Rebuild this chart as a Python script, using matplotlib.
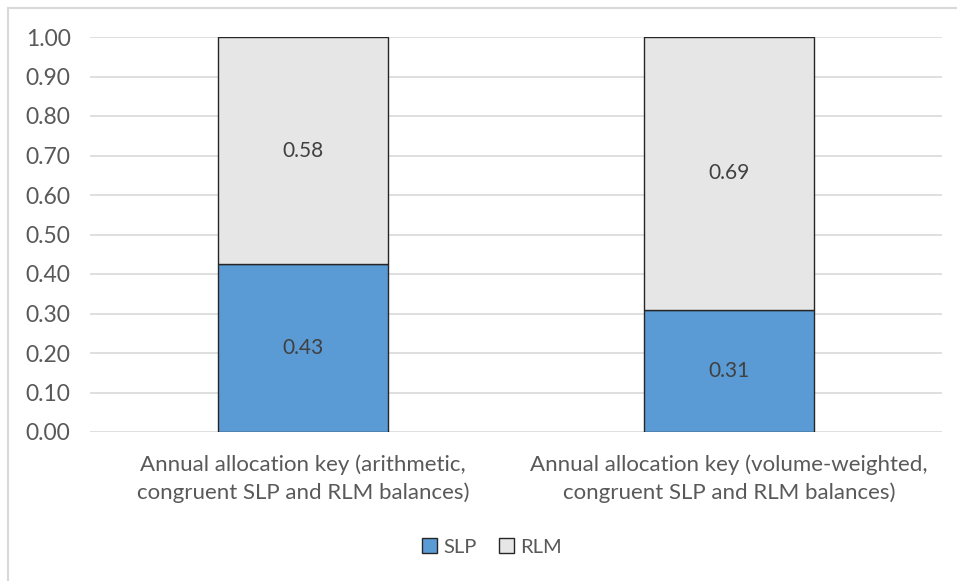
import matplotlib.pyplot as plt
from matplotlib.patches import Rectangle, Patch

categories = ["Annual allocation key (arithmetic,\ncongruent SLP and RLM balances)",
              "Annual allocation key (volume-weighted,\ncongruent SLP and RLM balances)"]
slp = [0.425, 0.31]
rlm = [0.575, 0.69]
yticks = [0.0, 0.1, 0.2, 0.3, 0.4, 0.5, 0.6, 0.7, 0.8, 0.9, 1.0]

text_col = "#595959"
plt.rcParams['font.family'] = ['Lato', 'DejaVu Sans']
plt.rcParams['font.size'] = 13

fig = plt.figure(figsize=(9.57, 5.81), dpi=100)
ax = fig.add_axes([90/957, 1-432/581, 852/957, 395/581])

x = list(range(len(categories)))
b1 = ax.bar(x, slp, width=0.4, color="#5B9BD5", edgecolor="#262626", linewidth=1, zorder=3, label="SLP")
b2 = ax.bar(x, rlm, width=0.4, bottom=slp, color="#E7E6E6", edgecolor="#262626", linewidth=1, zorder=3, label="RLM")

# labels rounded half up like the source
ax.bar_label(b1, labels=[f"{v + 1e-9:.2f}" for v in slp], label_type="center", color="#404040", fontsize=15)
ax.bar_label(b2, labels=[f"{v + 1e-9:.2f}" for v in rlm], label_type="center", color="#404040", fontsize=15)

ax.set_xlim(-0.5, 1.5)
ax.set_ylim(0, 1.0)
ax.set_yticks(yticks)
ax.set_yticklabels([f"{t:.2f}" for t in yticks])
ax.set_xticks(x)
ax.set_xticklabels(categories, linespacing=1.45)
ax.tick_params(axis="y", length=0, pad=14, colors=text_col, labelsize=16.5)
ax.tick_params(axis="x", length=0, pad=16, colors=text_col, labelsize=16)
ax.grid(axis="y", color="#D9D9D9", linewidth=1.2, zorder=0)
for s in ax.spines.values():
    s.set_visible(False)

handles = [Patch(facecolor="#5B9BD5", edgecolor="#262626", label="SLP"),
           Patch(facecolor="#E7E6E6", edgecolor="#262626", label="RLM")]
leg = fig.legend(handles=handles, loc="center", bbox_to_anchor=(492/957, 1-547/581), ncol=2,
                 frameon=False, handlelength=0.75, handleheight=0.75, handletextpad=0.3,
                 columnspacing=1.1, fontsize=14.5)
for t in leg.get_texts():
    t.set_color(text_col)

# outer chart frame (cropped at right and bottom)
fig.patches.append(Rectangle((8/957, -0.1), 1.1, 1.1 - 8/581, transform=fig.transFigure,
                             fill=False, edgecolor="#D9D9D9", linewidth=1.5))

fig.savefig("out.png", dpi=100)
